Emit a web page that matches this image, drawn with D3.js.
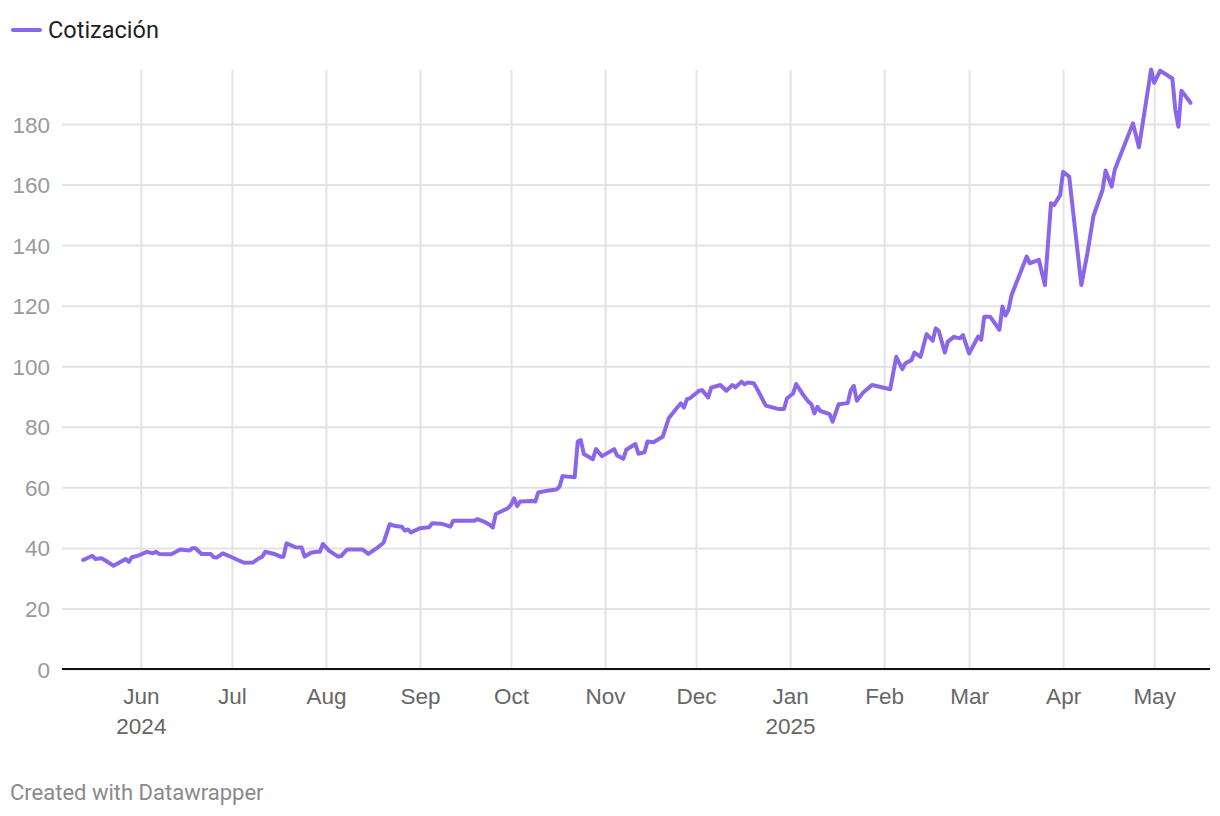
<!DOCTYPE html>
<html>
<head>
<meta charset="utf-8">
<script src="https://cdn.jsdelivr.net/npm/d3@7"></script>
<style>
  html, body { margin: 0; padding: 0; background: #fff; }
  svg { display: block; font-family: Roboto, "Noto Sans", sans-serif; }
</style>
</head>
<body>
<svg id="chart" width="1220" height="816"></svg>
<script>
// ---- Data ----
const seriesName = "Cotización";
const dates = [
  "2024-05-13","2024-05-16","2024-05-17","2024-05-19","2024-05-21","2024-05-23","2024-05-27","2024-05-28","2024-05-29","2024-05-31",
  "2024-06-03","2024-06-05","2024-06-06","2024-06-07","2024-06-11","2024-06-14","2024-06-17","2024-06-18","2024-06-19","2024-06-21","2024-06-24","2024-06-25","2024-06-26","2024-06-28",
  "2024-07-01","2024-07-03","2024-07-05","2024-07-08","2024-07-10","2024-07-11","2024-07-12","2024-07-15","2024-07-17","2024-07-18","2024-07-19","2024-07-22","2024-07-24","2024-07-25","2024-07-27","2024-07-29","2024-07-30","2024-07-31",
  "2024-08-02","2024-08-05","2024-08-06","2024-08-08","2024-08-09","2024-08-13","2024-08-15","2024-08-18","2024-08-20","2024-08-22","2024-08-24","2024-08-26","2024-08-27","2024-08-28","2024-08-29",
  "2024-09-01","2024-09-04","2024-09-05","2024-09-08","2024-09-11","2024-09-12","2024-09-15","2024-09-19","2024-09-20","2024-09-22","2024-09-24","2024-09-25","2024-09-26","2024-09-30",
  "2024-10-01","2024-10-02","2024-10-03","2024-10-04","2024-10-08","2024-10-09","2024-10-10","2024-10-13","2024-10-16","2024-10-17","2024-10-18","2024-10-22","2024-10-23","2024-10-24","2024-10-25","2024-10-28","2024-10-29","2024-10-31",
  "2024-11-04","2024-11-05","2024-11-07","2024-11-08","2024-11-11","2024-11-12","2024-11-14","2024-11-15","2024-11-17","2024-11-19","2024-11-20","2024-11-22","2024-11-25","2024-11-26","2024-11-27","2024-11-28","2024-11-29",
  "2024-12-02","2024-12-03","2024-12-05","2024-12-06","2024-12-09","2024-12-11","2024-12-13","2024-12-14","2024-12-16","2024-12-17","2024-12-18","2024-12-20","2024-12-21","2024-12-24","2024-12-28","2024-12-30","2024-12-31",
  "2025-01-02","2025-01-03","2025-01-05","2025-01-07","2025-01-08","2025-01-09","2025-01-10","2025-01-11","2025-01-14","2025-01-15","2025-01-17","2025-01-20","2025-01-21","2025-01-22","2025-01-23","2025-01-25","2025-01-28",
  "2025-02-03","2025-02-05","2025-02-07","2025-02-08","2025-02-10","2025-02-11","2025-02-13","2025-02-15","2025-02-17","2025-02-18","2025-02-19","2025-02-21","2025-02-22","2025-02-24","2025-02-26","2025-02-27",
  "2025-03-01","2025-03-04","2025-03-05","2025-03-06","2025-03-08","2025-03-11","2025-03-12","2025-03-13","2025-03-14","2025-03-15","2025-03-20","2025-03-21","2025-03-24","2025-03-26","2025-03-28","2025-03-29","2025-03-31",
  "2025-04-01","2025-04-03","2025-04-07","2025-04-09","2025-04-11","2025-04-14","2025-04-15","2025-04-17","2025-04-18","2025-04-24","2025-04-26","2025-04-30",
  "2025-05-01","2025-05-03","2025-05-07","2025-05-08","2025-05-09","2025-05-10","2025-05-13"
];
const values = [
  36.0,37.4,36.3,36.6,35.4,34.1,36.3,35.4,36.9,37.4,
  38.7,38.2,38.7,38.0,37.9,39.5,39.1,39.9,39.9,38.0,38.0,36.9,36.8,38.2,
  36.9,36.0,35.1,35.2,36.6,37.1,38.7,38.0,37.1,37.1,41.5,40.2,40.1,37.1,38.4,38.7,38.7,41.3,
  39.1,37.1,37.3,39.5,39.5,39.5,38.0,40.1,41.7,47.8,47.2,47.0,45.7,46.1,45.1,
  46.5,46.8,48.1,48.0,47.0,49.0,49.0,49.0,49.5,48.7,47.6,46.7,51.2,53.1,
  54.2,56.4,53.8,55.3,55.5,55.3,58.3,58.9,59.3,60.2,63.7,63.3,75.1,75.6,71.0,69.3,72.6,70.3,
  72.6,70.5,69.4,72.4,74.3,71.1,71.6,75.1,74.9,76.1,76.7,82.8,86.6,87.7,86.3,89.1,89.4,
  91.9,92.1,89.7,92.9,93.8,91.9,93.8,93.0,94.9,94.0,94.6,94.4,92.7,87.0,85.9,85.9,89.4,
  91.0,94.1,91.0,88.3,87.5,84.4,86.6,85.2,84.2,81.7,87.4,87.8,92.1,93.5,88.6,91.2,93.8,
  92.4,103.1,99.0,101.0,102.0,104.5,103.1,110.6,108.4,112.5,111.7,104.5,108.1,109.7,109.2,110.3,
  104.2,109.8,108.7,116.3,116.3,112.0,119.7,116.7,118.6,123.5,136.2,134.0,135.1,126.8,153.8,153.2,156.5,
  164.2,162.6,126.8,137.3,149.6,158.2,164.6,159.3,164.8,180.2,172.3,198.0,
  193.6,197.6,195.0,184.6,179.1,191.0,187.0
];
const yTicks = [0, 20, 40, 60, 80, 100, 120, 140, 160, 180];
const monthTicks = ["2024-06-01","2024-07-01","2024-08-01","2024-09-01","2024-10-01","2024-11-01","2024-12-01","2025-01-01","2025-02-01","2025-03-01","2025-04-01","2025-05-01"];
const monthLabels = ["Jun","Jul","Aug","Sep","Oct","Nov","Dec","Jan","Feb","Mar","Apr","May"];
const yearLabels = {"2024-06-01": "2024", "2025-01-01": "2025"};
const xDomain = ["2024-05-06T00:00", "2025-05-19T10:00"];
const yDomain = [0, 200];

// ---- Layout ----
const parse = d3.isoParse;
const svg = d3.select("#chart");
const mLeft = 62, mRight = 1210, mBottom = 669, mTop = 63.4, gridTop = 70;
const COLOR = "#8c66ea";

const x = d3.scaleTime().domain(xDomain.map(s => new Date(s))).range([mLeft, mRight]);
const y = d3.scaleLinear().domain(yDomain).range([mBottom, mTop]);

const data = dates.map((d, i) => ({ date: parse(d), value: values[i] }));

// Horizontal grid
const yAxis = d3.axisLeft(y).tickValues(yTicks).tickSize(-(mRight - mLeft)).tickFormat(d3.format("d")).tickPadding(12);
const gy = svg.append("g").attr("transform", `translate(${mLeft},0)`).call(yAxis);
gy.select(".domain").remove();
gy.selectAll(".tick line").attr("stroke", "#e3e3e3").attr("stroke-width", 2);
gy.selectAll(".tick text").attr("fill", "#9a9a9a").style("font-size", "22.5px").attr("x", -12).attr("dy", "0.36em");

// Vertical grid
const xTickDates = monthTicks.map(s => parse(s));
const xAxis = d3.axisBottom(x).tickValues(xTickDates).tickSize(-(mBottom - gridTop)).tickFormat((d, i) => monthLabels[i]).tickPadding(14);
const gx = svg.append("g").attr("transform", `translate(0,${mBottom})`).call(xAxis);
gx.select(".domain").remove();
gx.selectAll(".tick line").attr("stroke", "#e3e3e3").attr("stroke-width", 2);
gx.selectAll(".tick text").attr("fill", "#666").style("font-size", "22.5px").attr("y", 35).attr("dy", 0)
  .each(function(d, i) {
    const yl = yearLabels[monthTicks[i]];
    if (yl) {
      d3.select(this.parentNode).append("text")
        .attr("fill", "#666").style("font-size", "22.5px").attr("text-anchor", "middle")
        .attr("y", 65).text(yl);
    }
  });

// Baseline
svg.append("line").attr("x1", mLeft).attr("x2", mRight).attr("y1", y(0)).attr("y2", y(0))
  .attr("stroke", "#111").attr("stroke-width", 2);

// Line
const line = d3.line().x(d => x(d.date)).y(d => y(d.value));
svg.append("path").datum(data).attr("d", line)
  .attr("fill", "none").attr("stroke", COLOR).attr("stroke-width", 4)
  .attr("stroke-linejoin", "round").attr("stroke-linecap", "round");

// Legend
svg.append("line").attr("x1", 13).attr("x2", 40).attr("y1", 30).attr("y2", 30)
  .attr("stroke", COLOR).attr("stroke-width", 4).attr("stroke-linecap", "round");
svg.append("text").attr("x", 48).attr("y", 38).attr("fill", "#1f1f1f").style("font-size", "23.5px").text(seriesName);

// Footer
svg.append("text").attr("x", 10).attr("y", 800).attr("fill", "#8a8a8a").style("font-size", "22px").text("Created with Datawrapper");
</script>
</body>
</html>
